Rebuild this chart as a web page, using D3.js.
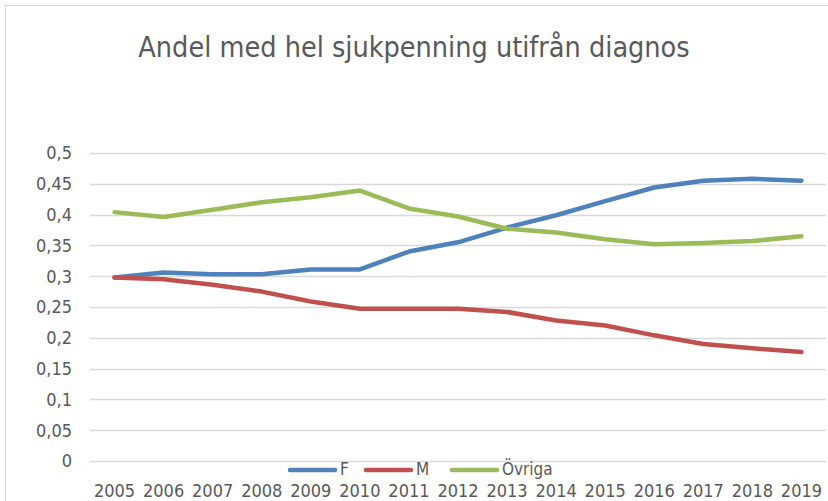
<!DOCTYPE html>
<html>
<head>
<meta charset="utf-8">
<script src="https://cdn.jsdelivr.net/npm/d3@7"></script>
<style>
  body { margin: 0; background: #fff; }
  text { font-family: "Liberation Sans Narrow", "DejaVu Sans Condensed", sans-serif; fill: #595959; }
</style>
</head>
<body>
<div id="chart"></div>
<script>
// Data
const years = ["2005","2006","2007","2008","2009","2010","2011","2012","2013","2014","2015","2016","2017","2018","2019"];
const valF = [0.298, 0.306, 0.303, 0.303, 0.311, 0.311, 0.340, 0.355, 0.379, 0.399, 0.422, 0.444, 0.455, 0.458, 0.455];
const valM = [0.298, 0.295, 0.286, 0.275, 0.259, 0.247, 0.247, 0.247, 0.242, 0.228, 0.220, 0.204, 0.190, 0.183, 0.177];
const valOvriga = [0.404, 0.396, 0.408, 0.420, 0.428, 0.439, 0.410, 0.397, 0.377, 0.371, 0.360, 0.352, 0.354, 0.357, 0.365];
const yTicks = [0, 0.05, 0.1, 0.15, 0.2, 0.25, 0.3, 0.35, 0.4, 0.45, 0.5];
const seriesNames = ["F", "M", "Övriga"];
const seriesColors = ["#4f81bd", "#c0504d", "#9bbb59"];

const series = seriesNames.map((name, i) => ({
    name: name,
    color: seriesColors[i],
    values: [valF, valM, valOvriga][i]
}));

const width = 828, height = 501;
const margin = { top: 153, right: 2, bottom: 40, left: 90 };

const svg = d3.select("#chart")
    .append("svg")
    .attr("width", width)
    .attr("height", height);

// chart border
svg.append("rect")
    .attr("x", 5.5).attr("y", 5.5)
    .attr("width", 840).attr("height", 520)
    .attr("fill", "none")
    .attr("stroke", "#d9d9d9");

// Title
svg.append("text")
    .attr("x", 414)
    .attr("y", 57)
    .attr("text-anchor", "middle")
    .style("font-size", "28.5px")
    .text("Andel med hel sjukpenning utifrån diagnos");

const x = d3.scaleBand()
    .domain(years)
    .range([margin.left, width - margin.right]);

const y = d3.scaleLinear()
    .domain([0, 0.5])
    .range([height - margin.bottom, margin.top]);

// Gridlines
svg.append("g")
    .selectAll("line")
    .data(yTicks)
    .enter()
    .append("line")
    .attr("x1", margin.left)
    .attr("x2", width - margin.right)
    .attr("y1", d => Math.round(y(d)) + 0.5)
    .attr("y2", d => Math.round(y(d)) + 0.5)
    .attr("stroke", "#d9d9d9")
    .attr("stroke-width", 1.5);

// Y axis labels
const fmt = d => String(d).replace(".", ",");
svg.append("g")
    .selectAll("text")
    .data(yTicks)
    .enter()
    .append("text")
    .attr("x", 72)
    .attr("y", d => y(d))
    .attr("dy", "0.35em")
    .attr("text-anchor", "end")
    .style("font-size", "18px")
    .text(fmt);

// X axis labels
svg.append("g")
    .selectAll("text")
    .data(years)
    .enter()
    .append("text")
    .attr("x", d => x(d) + x.bandwidth() / 2)
    .attr("y", 497)
    .attr("text-anchor", "middle")
    .style("font-size", "18px")
    .text(d => d);

// Lines
const line = d3.line()
    .x((d, i) => x(years[i]) + x.bandwidth() / 2)
    .y(d => y(d));

svg.append("g")
    .selectAll("path")
    .data(series)
    .enter()
    .append("path")
    .attr("d", d => line(d.values))
    .attr("fill", "none")
    .attr("stroke", d => d.color)
    .attr("stroke-width", 4.5)
    .attr("stroke-linecap", "round")
    .attr("stroke-linejoin", "round");

// Legend
const legendX = [290, 366, 452];
const legend = svg.append("g")
    .selectAll("g")
    .data(series)
    .enter()
    .append("g")
    .attr("transform", (d, i) => `translate(${legendX[i]},470)`);

legend.append("line")
    .attr("x1", 0).attr("x2", 45)
    .attr("y1", 0).attr("y2", 0)
    .attr("stroke", d => d.color)
    .attr("stroke-width", 4.5)
    .attr("stroke-linecap", "round");

legend.append("text")
    .attr("x", 50)
    .attr("y", 0)
    .attr("dy", "0.3em")
    .style("font-size", "17px")
    .text(d => d.name);
</script>
</body>
</html>
